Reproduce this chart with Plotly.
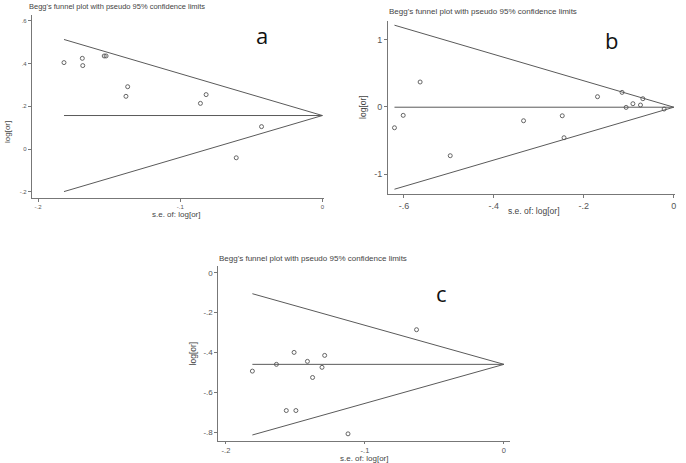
"""Begg's funnel plots (panels a, b, c) rebuilt with plotly."""

import plotly.graph_objects as go

# panel a: x is -s.e. of log[or], y is log[or]
a_se = [-0.1818, -0.1689, -0.1686, -0.1535, -0.1522, -0.1370, -0.1382,
        -0.0818, -0.0858, -0.0428, -0.0606]
a_lor = [0.405, 0.425, 0.391, 0.436, 0.436, 0.292, 0.247,
         0.255, 0.214, 0.105, -0.041]
a_pooled = 0.157

# panel b
b_se = [-0.621, -0.6016, -0.564, -0.497, -0.334, -0.248, -0.244,
        -0.1696, -0.115, -0.106, -0.0909, -0.0741, -0.0688, -0.0215]
b_lor = [-0.312, -0.128, 0.367, -0.727, -0.208, -0.134, -0.46,
         0.149, 0.213, -0.01, 0.045, 0.025, 0.119, -0.034]
b_pooled = -0.007

# panel c
c_se = [-0.181, -0.1637, -0.151, -0.1414, -0.129, -0.1309, -0.1377,
        -0.1566, -0.1497, -0.1122, -0.0629]
c_lor = [-0.494, -0.46, -0.40, -0.445, -0.415, -0.475, -0.526,
         -0.692, -0.692, -0.809, -0.286]
c_pooled = -0.46

a_xticks = [-0.2, -0.1, 0]
a_xtext = ["-.2", "-.1", "0"]
a_yticks = [-0.2, 0, 0.2, 0.4, 0.6]
a_ytext = ["-.2", "0", ".2", ".4", ".6"]

b_xticks = [-0.6, -0.4, -0.2, 0]
b_xtext = ["-.6", "-.4", "-.2", "0"]
b_yticks = [-1, 0, 1]
b_ytext = ["-1", "0", "1"]

c_xticks = [-0.2, -0.1, 0]
c_xtext = ["-.2", "-.1", "0"]
c_yticks = [-0.8, -0.6, -0.4, -0.2, 0]
c_ytext = ["-.8", "-.6", "-.4", "-.2", "0"]

TITLE = "Begg's funnel plot with pseudo 95% confidence limits"
LINE = "#5a5a5a"
FONT = "Liberation Sans, Arial, sans-serif"

fig = go.Figure()


def add_panel(suffix, se, lor, pooled):
    """Add funnel lines and study points for one panel."""
    xa = "x" + suffix
    ya = "y" + suffix
    se_max = min(se)
    # pseudo 95% limits and pooled line
    fig.add_trace(go.Scatter(
        x=[se_max, 0, se_max], y=[pooled - 1.96 * se_max, pooled,
                                  pooled + 1.96 * se_max],
        mode="lines", line=dict(color=LINE, width=1),
        xaxis=xa, yaxis=ya, hoverinfo="skip"))
    fig.add_trace(go.Scatter(
        x=[se_max, 0], y=[pooled, pooled],
        mode="lines", line=dict(color=LINE, width=1),
        xaxis=xa, yaxis=ya, hoverinfo="skip"))
    fig.add_trace(go.Scatter(
        x=se, y=lor, mode="markers",
        marker=dict(symbol="circle-open", size=4, color="#555555",
                    line=dict(width=0.9)),
        xaxis=xa, yaxis=ya))


add_panel("", a_se, a_lor, a_pooled)
add_panel("2", b_se, b_lor, b_pooled)
add_panel("3", c_se, c_lor, c_pooled)


def axis(domain, rng, ticks, text, size, anchor, ticklen=3):
    return dict(
        domain=domain, range=rng, tickvals=ticks, ticktext=text,
        showgrid=False, zeroline=False, showline=True,
        linecolor="#777777", linewidth=1, ticks="outside", ticklen=ticklen,
        tickcolor="#777777", tickfont=dict(size=size, color="#555555"),
        anchor=anchor, fixedrange=True)


fig.update_layout(
    width=686, height=463,
    margin=dict(l=0, r=0, t=0, b=0),
    paper_bgcolor="white", plot_bgcolor="white",
    showlegend=False,
    font=dict(family=FONT, color="#444444"),
    xaxis=axis([0.0466, 0.4738], [-0.2044, 0.0012], a_xticks, a_xtext, 6, "y"),
    yaxis=axis([0.573, 0.9676], [-0.228, 0.628], a_yticks, a_ytext, 6, "x"),
    xaxis2=axis([0.5675, 0.9864], [-0.635, 0.002], b_xticks, b_xtext, 9, "y2"),
    yaxis2=axis([0.5803, 0.9553], [-1.30, 1.277], b_yticks, b_ytext, 9, "x2"),
    xaxis3=axis([0.3192, 0.7449], [-0.2055, 0.004], c_xticks, c_xtext, 7.5,
                "y3", ticklen=2),
    yaxis3=axis([0.0475, 0.4255], [-0.845, 0.034], c_yticks, c_ytext, 8, "x3"),
)

notes = [
    # panel titles
    dict(x=28, y=7, text=TITLE, size=7.5, anchor="left", angle=0),
    dict(x=389, y=11, text=TITLE, size=8, anchor="left", angle=0),
    dict(x=219, y=258, text=TITLE, size=8, anchor="left", angle=0),
    # axis titles
    dict(x=177, y=215, text="s.e. of: log[or]", size=8, anchor="center", angle=0),
    dict(x=7, y=132, text="log[or]", size=8, anchor="center", angle=-90),
    dict(x=536, y=211, text="s.e. of: log[or]", size=8.5, anchor="center", angle=0),
    dict(x=364, y=107, text="log[or]", size=8.5, anchor="center", angle=-90),
    dict(x=365, y=458.5, text="s.e. of: log[or]", size=8, anchor="center", angle=0),
    dict(x=194, y=353, text="log[or]", size=8.5, anchor="center", angle=-90),
    # panel letters
    dict(x=263, y=35, text="a", size=22, anchor="center", angle=0),
    dict(x=613, y=40, text="b", size=22, anchor="center", angle=0),
    dict(x=443, y=293, text="c", size=22, anchor="center", angle=0),
]
for n in notes:
    big = n["size"] > 15
    fig.add_annotation(
        x=n["x"] / 686, y=1 - n["y"] / 463, xref="paper", yref="paper",
        text=n["text"], showarrow=False, textangle=n["angle"],
        xanchor=n["anchor"], yanchor="middle", borderpad=0,
        font=dict(size=n["size"], color="#111111" if big else "#444444",
                  family="Open Sans, sans-serif" if big else FONT))

# drop the default page margin so the figure sits at the window's corner
fig.write_html("out.html", config={"displayModeBar": False},
               post_script="document.body.style.margin='0';")
